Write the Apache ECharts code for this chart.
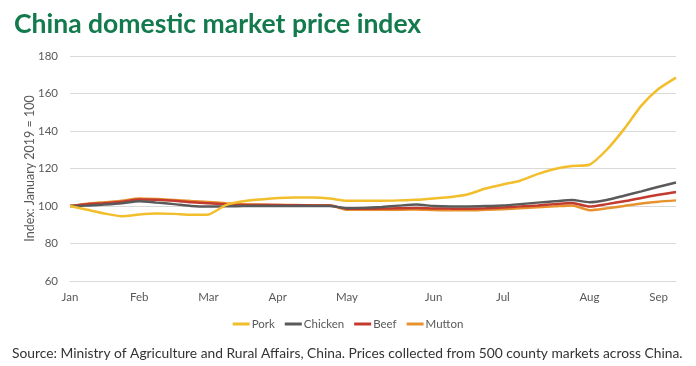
<!DOCTYPE html>
<html>
<head>
<meta charset="utf-8">
<script src="https://cdn.jsdelivr.net/npm/echarts@6/dist/echarts.min.js"></script>
<style>
html,body{margin:0;padding:0;background:#fff;}
#c{width:696px;height:366px;}
</style>
</head>
<body>
<div id="c"></div>
<script>
// weekly observations, month label on first week of each month
const weeks = ['Jan','','','','Feb','','','','Mar','','','','Apr','','','','May','','','','','Jun','','','','Jul','','','','','Aug','','','','Sep',''];
const pork    = [100,98,96,94.5,95.5,96,95.8,95.3,95.5,100.5,102.5,103.5,104.3,104.5,104.5,104,102.8,102.8,102.8,103,103.3,104,104.8,106.3,109.3,111.5,113.5,117,119.7,121.3,122,130,141,153.5,162.5,168.5];
const chicken = [100,100.2,100.8,101.5,102.5,101.8,101,100,99.7,99.8,100,100,100,100,100,100,98.8,99,99.5,100.2,100.8,100,99.8,99.8,100,100.3,101,101.8,102.5,103.2,102,103.2,105.5,107.8,110.3,112.5];
const beef    = [100,101,101.5,102.3,103.5,103.3,102.8,102,101.5,101,100.6,100.5,100.5,100.4,100.3,100.3,98.5,98.5,98.6,98.8,99,98.7,98.6,98.6,98.8,99.2,99.8,100.3,101,101.6,99.7,101,102.5,104.3,106,107.5];
const mutton  = [100,101.2,102,102.8,104,103.7,103.2,102.7,102.2,101.5,101,100.8,100.6,100.5,100.4,100.4,98,98,98,98,98.2,97.8,97.7,97.7,98,98.3,98.8,99.3,99.8,100.3,97.8,98.8,100,101.3,102.3,103];
const seriesNames = ['Pork','Chicken','Beef','Mutton'];
const colors = ['#F2BE2C','#5A5A5A','#C33A2E','#E8922E'];
const titleText = 'China domestic market price index';
const yAxisName = 'Index: January 2019 = 100';
const sourceText = 'Source: Ministry of Agriculture and Rural Affairs, China. Prices collected from 500 county markets across China.';

const chart = echarts.init(document.getElementById('c'), null, {renderer:'canvas'});
const dataArr = [pork, chicken, beef, mutton];
chart.setOption({
  animation:false,
  backgroundColor:'#fff',
  title:[{
    text:titleText, left:9, top:6,
    textStyle:{fontFamily:'Lato', fontWeight:'bold', fontSize:26.5, color:'#127A4C'}
  },{
    text:sourceText, left:7, top:342,
    textStyle:{fontFamily:'Lato', fontWeight:'normal', fontSize:13.8, color:'#333'}
  }],
  legend:{
    data:seriesNames, left:'center', top:313, icon:'rect', itemWidth:17, itemHeight:3, itemGap:10,
    textStyle:{fontFamily:'Lato', fontSize:11.5, color:'#595959', padding:[0,0,0,-3]}
  },
  grid:{left:70, right:20, top:56, bottom:85},
  xAxis:{
    type:'category', data:weeks, boundaryGap:false,
    axisLine:{lineStyle:{color:'#d9d9d9'}}, axisTick:{show:false},
    axisLabel:{interval:0, color:'#595959', fontFamily:'Lato', fontSize:11.5, margin:10}
  },
  yAxis:{
    type:'value', min:60, max:180, interval:20,
    name:yAxisName, nameLocation:'middle', nameGap:34, nameMoveOverlap:false,
    nameTextStyle:{fontFamily:'Lato', fontSize:12.5, color:'#595959'},
    axisLine:{show:false}, axisTick:{show:false},
    axisLabel:{color:'#595959', fontFamily:'Lato', fontSize:11.5, margin:12},
    splitLine:{lineStyle:{color:'#d9d9d9'}}
  },
  series: seriesNames.map((n,i)=>({
    name:n, type:'line', data:dataArr[i], symbol:'none', smooth:0.2,
    lineStyle:{width:2.5, color:colors[i]}, itemStyle:{color:colors[i]}, z: 10-i
  }))
});
</script>
</body>
</html>
